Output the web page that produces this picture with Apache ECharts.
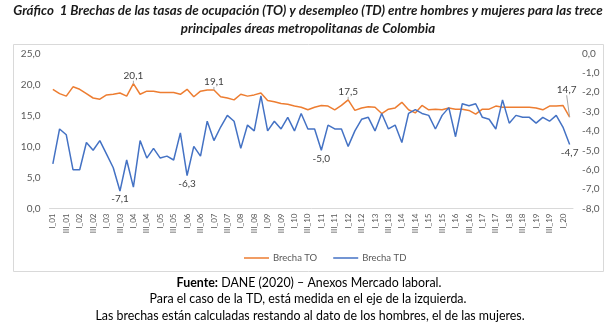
<!DOCTYPE html>
<html>
<head>
<meta charset="utf-8">
<script src="https://cdn.jsdelivr.net/npm/echarts@6/dist/echarts.min.js"></script>
<style>
  html, body { margin: 0; padding: 0; background: #ffffff; }
  #chart { width: 616px; height: 327px; }
</style>
</head>
<body>
<div id="chart"></div>
<script>
// Quarterly periods, I_01 (2001 Q1) to II_20 (2020 Q2)
const categories = [
  'I_01','II_01','III_01','IV_01','I_02','II_02','III_02','IV_02',
  'I_03','II_03','III_03','IV_03','I_04','II_04','III_04','IV_04',
  'I_05','II_05','III_05','IV_05','I_06','II_06','III_06','IV_06',
  'I_07','II_07','III_07','IV_07','I_08','II_08','III_08','IV_08',
  'I_09','II_09','III_09','IV_09','I_10','II_10','III_10','IV_10',
  'I_11','II_11','III_11','IV_11','I_12','II_12','III_12','IV_12',
  'I_13','II_13','III_13','IV_13','I_14','II_14','III_14','IV_14',
  'I_15','II_15','III_15','IV_15','I_16','II_16','III_16','IV_16',
  'I_17','II_17','III_17','IV_17','I_18','II_18','III_18','IV_18',
  'I_19','II_19','III_19','IV_19','I_20','II_20'
];

// Gap in the occupation rate (men minus women), left axis
const brechaTO = [
  19.2, 18.5, 18.1, 19.6, 19.2, 18.5, 17.8, 17.6,
  18.3, 18.4, 18.6, 18.1, 20.1, 18.4, 18.9, 18.9,
  18.7, 18.7, 18.7, 18.4, 19.2, 18.0, 18.9, 19.1,
  19.1, 18.0, 17.8, 17.5, 18.4, 18.1, 18.3, 18.6,
  17.4, 17.2, 16.9, 16.8, 16.5, 16.3, 15.9, 16.3,
  16.6, 16.5, 15.9, 16.6, 17.5, 15.8, 16.2, 16.4,
  16.3, 15.3, 16.0, 16.2, 17.1, 15.9, 15.4, 16.6,
  15.9, 16.0, 15.9, 16.2, 16.0, 16.0, 15.8, 15.2,
  16.0, 16.0, 16.5, 16.3, 16.3, 16.3, 16.3, 16.3,
  16.2, 15.9, 16.5, 16.5, 16.6, 14.7
];

// Gap in the unemployment rate (men minus women), right axis
const brechaTD = [
  -5.7, -3.9, -4.2, -6.0, -6.0, -4.6, -5.0, -4.5,
  -5.2, -5.9, -7.1, -5.5, -6.9, -4.5, -5.4, -4.9,
  -5.4, -5.3, -5.5, -4.1, -6.3, -4.8, -5.3, -3.5,
  -4.5, -3.8, -3.2, -3.5, -4.9, -3.7, -4.0, -2.2,
  -4.0, -3.5, -3.9, -3.3, -4.0, -3.1, -3.9, -3.9,
  -5.0, -3.7, -3.9, -3.9, -4.8, -4.0, -3.4, -3.3,
  -4.0, -3.1, -3.9, -3.7, -4.6, -3.1, -2.9, -3.1,
  -3.2, -3.9, -3.2, -2.8, -4.3, -2.6, -2.7, -2.6,
  -3.3, -3.4, -3.9, -2.4, -3.6, -3.2, -3.3, -3.3,
  -3.6, -3.3, -3.5, -3.2, -3.8, -4.7
];

// Points that carry a value label
const labeledTO = [12, 24, 44, 77];
const labeledTD = [10, 20, 40, 77];

const leftTicks = { min: 0, max: 25, interval: 5 };
const rightTicks = { min: -8, max: 0, interval: 1 };

const FONT = 'Lato, "Open Sans", sans-serif';
const fmt = v => Number(v).toFixed(1).replace('.', ',');

// Labelled points get an (invisible) symbol so the label has an anchor
function buildData(values, labeled, position) {
  return values.map((v, i) => {
    if (labeled.indexOf(i) < 0) return { value: v, symbol: 'none' };
    return {
      value: v,
      symbol: 'circle',
      symbolSize: 0.01,
      label: { show: true, position: position }
    };
  });
}

const chart = echarts.init(document.getElementById('chart'), null, { renderer: 'canvas' });

chart.setOption({
  backgroundColor: '#ffffff',
  animation: false,
  textStyle: { fontFamily: FONT },
  graphic: [
    {
      type: 'rect', silent: true,
      shape: { x: 13.5, y: 44.5, width: 590, height: 227 },
      style: { fill: 'none', stroke: '#d9d9d9', lineWidth: 1 }
    },
    {
      type: 'text', x: 308, y: 11,
      style: {
        text: 'Gráfico  1 Brechas de las tasas de ocupación (TO) y desempleo (TD) entre hombres y mujeres para las trece',
        font: 'italic bold 13.3px ' + FONT, fill: '#1a1a1a',
        textAlign: 'center', textVerticalAlign: 'middle'
      }
    },
    {
      type: 'text', x: 308, y: 29,
      style: {
        text: 'principales áreas metropolitanas de Colombia',
        font: 'italic bold 13.3px ' + FONT, fill: '#1a1a1a',
        textAlign: 'center', textVerticalAlign: 'middle'
      }
    },
    {
      type: 'text', x: 309, y: 283,
      style: {
        text: '{b|Fuente:} DANE (2020) – Anexos Mercado laboral.',
        rich: { b: { fontWeight: 'bold', fontSize: 12.4, fontFamily: FONT, fill: '#000' } },
        font: '12.4px ' + FONT, fill: '#000',
        textAlign: 'center', textVerticalAlign: 'middle'
      }
    },
    {
      type: 'text', x: 308, y: 299,
      style: {
        text: 'Para el caso de la TD, está medida en el eje de la izquierda.',
        font: '12.4px ' + FONT, fill: '#000',
        textAlign: 'center', textVerticalAlign: 'middle'
      }
    },
    {
      type: 'text', x: 310, y: 316,
      style: {
        text: 'Las brechas están calculadas restando al dato de los hombres, el de las mujeres.',
        font: '12.4px ' + FONT, fill: '#000',
        textAlign: 'center', textVerticalAlign: 'middle'
      }
    }
  ],
  legend: {
    top: 248,
    left: 239,
    icon: 'rect',
    itemWidth: 25,
    itemHeight: 1.5,
    itemGap: 16,
    textStyle: { fontSize: 9.5, color: '#595959', fontFamily: FONT, padding: [0, 0, 0, -1] },
    data: ['Brecha TO', 'Brecha TD']
  },
  grid: { left: 49.5, right: 43, top: 53.3, bottom: 118.5, containLabel: false },
  xAxis: {
    type: 'category',
    data: categories,
    boundaryGap: true,
    axisLine: { lineStyle: { color: '#d9d9d9', width: 1 } },
    axisTick: { show: false },
    axisLabel: {
      rotate: 90, interval: 1, margin: 5,
      fontSize: 8, color: '#595959', fontFamily: FONT
    },
    splitLine: { show: false }
  },
  yAxis: [
    {
      type: 'value', position: 'left',
      min: leftTicks.min, max: leftTicks.max, interval: leftTicks.interval,
      axisLine: { show: false }, axisTick: { show: false },
      splitLine: { show: false },
      axisLabel: { formatter: fmt, fontSize: 10, color: '#595959', margin: 9, fontFamily: FONT }
    },
    {
      type: 'value', position: 'right',
      min: rightTicks.min, max: rightTicks.max, interval: rightTicks.interval,
      axisLine: { show: false }, axisTick: { show: false },
      splitLine: { show: false },
      axisLabel: { formatter: fmt, fontSize: 10, color: '#595959', margin: 9, fontFamily: FONT }
    }
  ],
  series: [
    {
      name: 'Brecha TO',
      type: 'line',
      yAxisIndex: 0,
      showSymbol: true,
      showAllSymbol: true,
      lineStyle: { color: '#ED7D31', width: 1.5 },
      itemStyle: { color: '#ED7D31' },
      label: { formatter: p => fmt(p.value), fontSize: 10, color: '#404040', distance: 3, fontFamily: FONT },
      labelLine: { show: true, lineStyle: { color: '#a6a6a6', width: 1 } },
      labelLayout: p => (p.dataIndex === brechaTO.length - 1 ? { dx: -3, dy: -19 } : {}),
      data: buildData(brechaTO, labeledTO, 'top')
    },
    {
      name: 'Brecha TD',
      type: 'line',
      yAxisIndex: 1,
      showSymbol: true,
      showAllSymbol: true,
      lineStyle: { color: '#4472C4', width: 1.5 },
      itemStyle: { color: '#4472C4' },
      label: { formatter: p => fmt(p.value), fontSize: 10, color: '#404040', distance: 3, fontFamily: FONT },
      data: buildData(brechaTD, labeledTD, 'bottom')
    }
  ]
});
</script>
</body>
</html>
